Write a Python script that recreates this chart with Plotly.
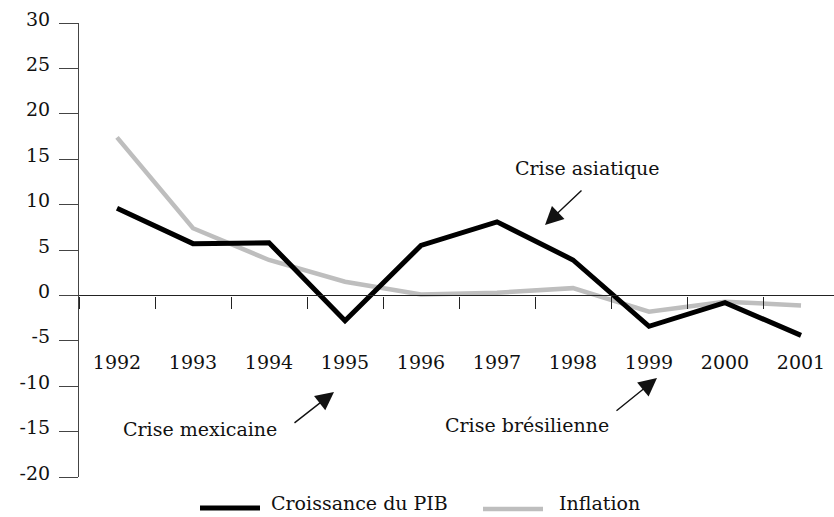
import plotly.graph_objects as go

years = ["1992", "1993", "1994", "1995", "1996", "1997", "1998", "1999", "2000", "2001"]
pib = [9.6, 5.7, 5.8, -2.8, 5.5, 8.1, 3.9, -3.4, -0.8, -4.4]
inflation = [17.4, 7.4, 3.9, 1.5, 0.1, 0.3, 0.8, -1.8, -0.7, -1.1]
y_ticks = [-20, -15, -10, -5, 0, 5, 10, 15, 20, 25, 30]
y_labels = [str(v) for v in y_ticks]

W, H = 834, 517
L, T, R, B = 79, 23, 0, 40
PW, PH = W - L - R, H - T - B


def px(x):
    return (x - L) / PW


def py(y):
    return (H - B - y) / PH


FONT = "DejaVu Serif"
FS = 19
fig = go.Figure()
fig.add_trace(go.Scatter(x=years, y=inflation, mode="lines", name="Inflation",
                         line=dict(color="#bebebe", width=4.5)))
fig.add_trace(go.Scatter(x=years, y=pib, mode="lines", name="Croissance du PIB",
                         line=dict(color="#000000", width=5)))

fig.update_layout(
    width=W, height=H,
    margin=dict(l=L, r=R, t=T, b=B, pad=0, autoexpand=False),
    paper_bgcolor="white", plot_bgcolor="white",
    showlegend=False,
    font=dict(family=FONT, size=FS, color="#111"),
    xaxis=dict(type="category", range=[-0.5, 9.434], anchor="free", position=0.4,
               automargin=False,
               showline=True, linecolor="#222", linewidth=1.2,
               ticks="outside", tickson="boundaries", ticklen=12, tickcolor="#222",
               tickwidth=1.2, showgrid=False, zeroline=False,
               ticklabelstandoff=50, tickfont=dict(size=FS, family=FONT)),
    yaxis=dict(range=[-20, 30], tickvals=y_ticks, ticktext=y_labels, automargin=False,
               showline=True, linecolor="#444",
               linewidth=1.2, ticks="outside", ticklen=19, tickcolor="#444", tickwidth=1.2,
               showgrid=False, zeroline=False, ticklabelstandoff=5, ticklabelshift=-4,
               tickfont=dict(size=FS, family=FONT)),
)

# annotations
texts = [("Crise asiatique", 587, 168), ("Crise mexicaine", 200, 429),
         ("Crise brésilienne", 527, 425)]
for t, x, y in texts:
    fig.add_annotation(text=t, x=px(x), y=py(y), xref="paper", yref="paper",
                       showarrow=False, xanchor="center", yanchor="middle",
                       font=dict(size=FS, family=FONT, color="#111"))

arrows = [(545, 225, 38, -36), (334, 392, -41, 32), (657, 378, -42, 34)]
for x, y, ax, ay in arrows:
    fig.add_annotation(text="", x=px(x), y=py(y), xref="paper", yref="paper",
                       showarrow=True, ax=ax, ay=ay, arrowhead=2, arrowsize=2.6,
                       arrowwidth=1.4, arrowcolor="#111")

# legend
legend_items = [("Croissance du PIB", "#000000", 5, 200, 260, 508, 269),
                ("Inflation", "#bebebe", 4.5, 483, 543, 509, 557)]
for name, col, w, x0, x1, y, tx in legend_items:
    fig.add_shape(type="line", xref="paper", yref="paper", x0=px(x0), x1=px(x1),
                  y0=py(y), y1=py(y), line=dict(color=col, width=w))
    fig.add_annotation(text=name, x=px(tx), y=py(503), xref="paper", yref="paper",
                       showarrow=False, xanchor="left", yanchor="middle",
                       font=dict(size=FS, family=FONT, color="#111"))

fig.write_html("out.html", config={"displayModeBar": False},
               post_script="document.body.style.margin='0';")
